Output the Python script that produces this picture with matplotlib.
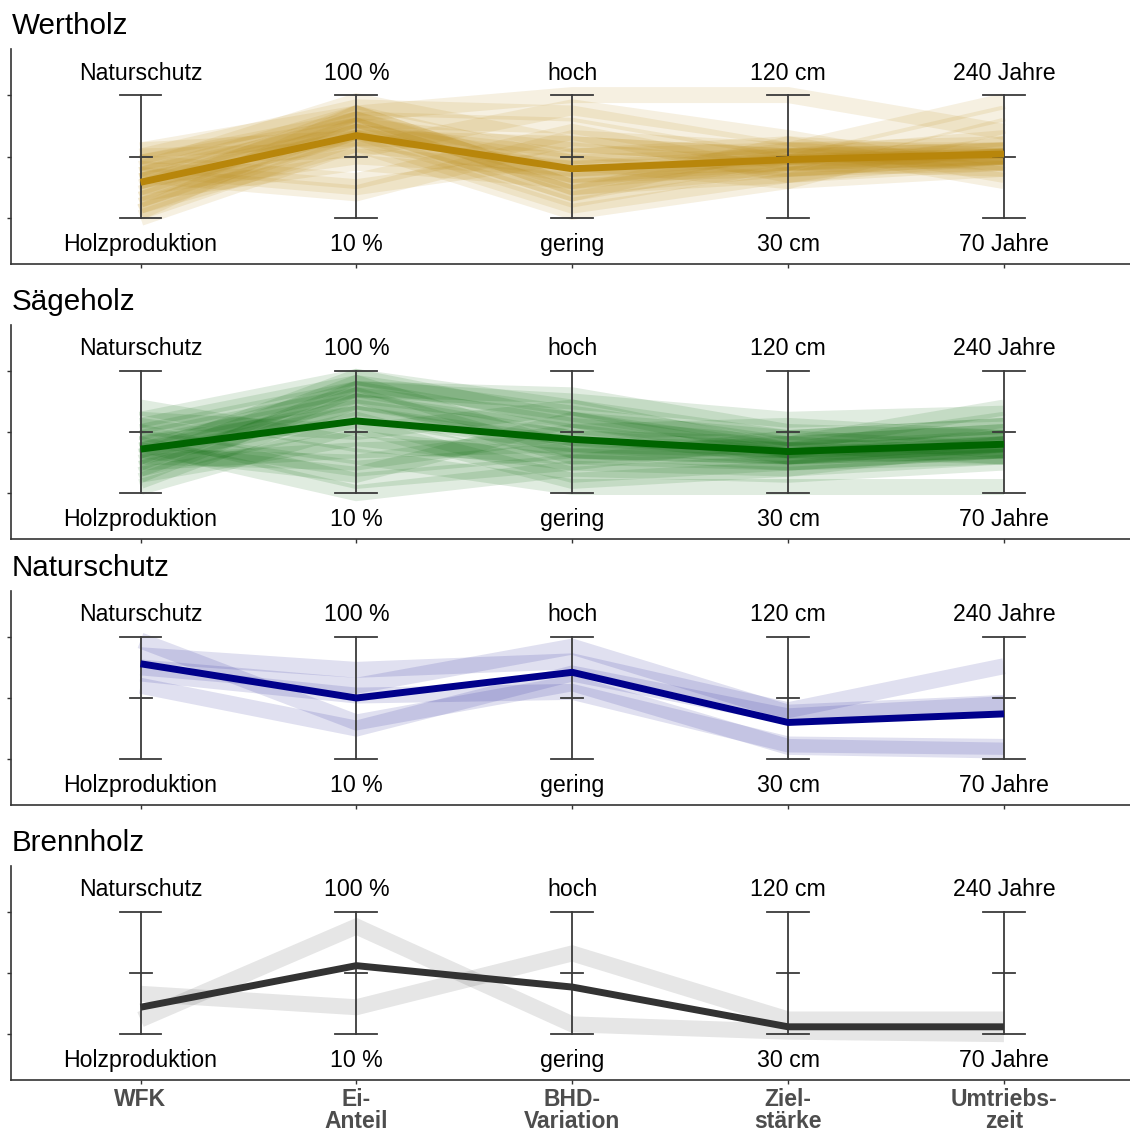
import matplotlib
matplotlib.use("Agg")
import matplotlib.pyplot as plt
import numpy as np

plt.rcParams['font.family'] = ['Liberation Sans', 'DejaVu Sans']

# ---- data -------------------------------------------------------------
criteria = ["WFK", "Ei-\nAnteil", "BHD-\nVariation", "Ziel-\nstärke", "Umtriebs-\nzeit"]
upper_labels = ["Naturschutz", "100 %", "hoch", "120 cm", "240 Jahre"]
lower_labels = ["Holzproduktion", "10 %", "gering", "30 cm", "70 Jahre"]

panel_titles = ["Wertholz", "Sägeholz", "Naturschutz", "Brennholz"]

# scaled positions (0 = lower label, 1 = upper label) of every single stand
wertholz_runs = [
    [0.55, 0.85, 1.00, 1.00, 0.70],
    [0.50, 0.90, 0.85, 0.55, 0.95],
    [0.45, 0.80, 0.75, 0.45, 0.85],
    [0.40, 0.95, 0.60, 0.50, 0.55],
    [0.35, 0.75, 0.55, 0.40, 0.50],
    [0.30, 0.70, 0.45, 0.50, 0.55],
    [0.30, 0.65, 0.35, 0.45, 0.50],
    [0.25, 0.80, 0.30, 0.55, 0.60],
    [0.20, 0.85, 0.25, 0.40, 0.45],
    [0.15, 0.75, 0.20, 0.50, 0.50],
    [0.10, 0.70, 0.15, 0.45, 0.55],
    [0.05, 0.65, 0.10, 0.35, 0.45],
    [0.00, 0.60, 0.05, 0.30, 0.40],
    [0.40, 0.25, 0.50, 0.60, 0.50],
    [0.35, 0.20, 0.65, 0.55, 0.45],
    [0.45, 0.30, 0.70, 0.35, 0.60],
    [0.50, 0.55, 0.90, 0.65, 0.35],
    [0.25, 0.50, 0.40, 0.50, 0.65],
    [0.20, 0.45, 0.30, 0.45, 0.40],
    [0.35, 0.85, 0.45, 0.30, 0.75],
    [0.30, 0.80, 0.35, 0.40, 0.50],
    [0.15, 0.70, 0.50, 0.55, 0.55],
    [0.45, 0.75, 0.20, 0.60, 0.30],
    [0.10, 0.60, 0.40, 0.45, 0.50],
    [0.55, 0.65, 0.60, 0.50, 0.45],
    [0.05, 0.85, 0.25, 0.35, 0.50],
]
wertholz_mean = [0.29, 0.67, 0.40, 0.475, 0.52]

saegeholz_runs = [
    [0.60, 0.95, 0.70, 0.45, 0.55],
    [0.55, 0.90, 0.65, 0.40, 0.70],
    [0.50, 0.85, 0.80, 0.50, 0.45],
    [0.45, 0.80, 0.60, 0.35, 0.40],
    [0.40, 0.75, 0.50, 0.30, 0.35],
    [0.35, 0.70, 0.45, 0.40, 0.50],
    [0.30, 0.65, 0.40, 0.35, 0.45],
    [0.25, 0.90, 0.35, 0.30, 0.40],
    [0.20, 0.80, 0.30, 0.25, 0.35],
    [0.15, 0.85, 0.55, 0.40, 0.30],
    [0.10, 0.75, 0.45, 0.35, 0.60],
    [0.45, 0.20, 0.35, 0.30, 0.40],
    [0.50, 0.10, 0.25, 0.20, 0.30],
    [0.40, 0.00, 0.20, 0.15, 0.25],
    [0.35, 0.15, 0.60, 0.45, 0.35],
    [0.55, 0.30, 0.05, 0.05, 0.05],
    [0.30, 0.25, 0.50, 0.55, 0.45],
    [0.70, 0.40, 0.30, 0.40, 0.50],
    [0.25, 0.35, 0.40, 0.30, 0.35],
    [0.20, 0.60, 0.15, 0.25, 0.30],
    [0.60, 0.50, 0.70, 0.35, 0.30],
    [0.05, 0.55, 0.10, 0.20, 0.40],
    [0.30, 0.95, 0.60, 0.30, 0.45],
    [0.15, 0.45, 0.25, 0.45, 0.55],
    [0.40, 0.65, 0.35, 0.25, 0.35],
    [0.35, 0.85, 0.75, 0.60, 0.65],
]
saegeholz_mean = [0.36, 0.59, 0.44, 0.34, 0.40]

naturschutz_runs = [
    [0.97, 0.30, 0.62, 0.10, 0.07],
    [0.85, 0.73, 0.80, 0.40, 0.76],
    [0.75, 0.60, 0.92, 0.38, 0.46],
    [0.60, 0.25, 0.70, 0.35, 0.45],
    [0.70, 0.52, 0.55, 0.12, 0.10],
]
naturschutz_mean = [0.78, 0.50, 0.71, 0.30, 0.37]

brennholz_runs = [
    [0.12, 0.88, 0.08, 0.02, 0.00],
    [0.33, 0.22, 0.66, 0.12, 0.12],
]
brennholz_mean = [0.22, 0.56, 0.385, 0.06, 0.06]

panel_runs = [wertholz_runs, saegeholz_runs, naturschutz_runs, brennholz_runs]
panel_means = [wertholz_mean, saegeholz_mean, naturschutz_mean, brennholz_mean]
panel_colors = ["#B8860B", "#006400", "#00008B", "#333333"]

# ---- layout -----------------------------------------------------------
W, H = 1130, 1133
fig = plt.figure(figsize=(W / 100, H / 100), dpi=100)

panel_px = [(49, 264), (325, 539), (591, 805), (866, 1080)]
left_px, right_px = 11, 1133.5
x = np.arange(1, len(criteria) + 1)
axis_col = "#3a3a3a"
cap_half = 0.097
mid_half = 0.051

for i, (top, bot) in enumerate(panel_px):
    ax = fig.add_axes([left_px / W, 1 - bot / H, (right_px - left_px) / W, (bot - top) / H])
    ax.set_xlim(0.4, 5.6)
    ax.set_ylim(-0.375, 1.375)
    col = panel_colors[i]

    for run in panel_runs[i]:
        ax.plot(x, run, color=col, alpha=0.12, lw=11.5, solid_capstyle="butt",
                solid_joinstyle="miter", zorder=2)

    for xi in x:
        ax.plot([xi, xi], [0, 1], color=axis_col, lw=1.3, zorder=3)
        ax.plot([xi - cap_half, xi + cap_half], [1, 1], color=axis_col, lw=1.3, zorder=3)
        ax.plot([xi - cap_half, xi + cap_half], [0, 0], color=axis_col, lw=1.3, zorder=3)
        ax.plot([xi - mid_half, xi + mid_half], [0.5, 0.5], color=axis_col, lw=1.3, zorder=3)

    ax.plot(x, panel_means[i], color=col, lw=5, solid_capstyle="butt",
            solid_joinstyle="miter", zorder=4)

    for xi, up, lo in zip(x, upper_labels, lower_labels):
        ax.text(xi, 1.126, up, ha="center", va="baseline", fontsize=16.7, color="black")
        ax.text(xi, -0.272, lo, ha="center", va="baseline", fontsize=16.7, color="black")

    for s in ["top", "right"]:
        ax.spines[s].set_visible(False)
    for s in ["left", "bottom"]:
        ax.spines[s].set_color("#333333")
        ax.spines[s].set_linewidth(1.2)
    ax.set_yticks([0, 0.5, 1])
    ax.set_yticklabels([])
    ax.set_xticks(x)
    ax.tick_params(axis="both", length=3, width=1.0, color="#333333")
    if i == len(panel_px) - 1:
        ax.set_xticklabels(criteria, fontsize=16.5, fontweight="bold", color="#4D4D4D",
                           linespacing=0.95)
        ax.tick_params(axis="x", pad=2.5)
    else:
        ax.set_xticklabels([])
    ax.set_facecolor("none")

    fig.text(12 / W, 1 - (top - 15) / H, panel_titles[i], ha="left", va="baseline",
             fontsize=21.3, color="black")

fig.savefig("out.png", dpi=100)
